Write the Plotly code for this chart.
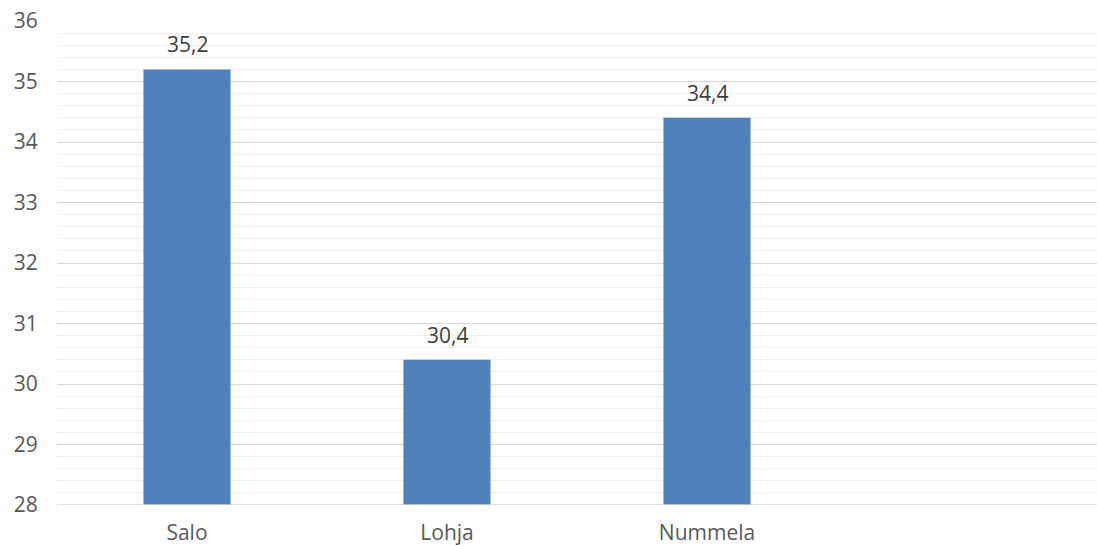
import plotly.graph_objects as go

categories = ["Salo", "Lohja", "Nummela"]
values = [35.2, 30.4, 34.4]
y_ticks = [28, 29, 30, 31, 32, 33, 34, 35, 36]

BAR = "#4F81BD"
TXT = "#595959"
FONT = "Open Sans"
FS = 21

fig = go.Figure()
fig.add_trace(go.Bar(x=categories, y=values, marker=dict(color=BAR, line=dict(width=0)),
                     width=0.335, hoverinfo="skip"))

for c, v in zip(categories, values):
    fig.add_annotation(x=c, y=v, text=f"{v:.1f}".replace(".", ","), showarrow=False,
                       yanchor="bottom", yshift=9,
                       font=dict(family=FONT, size=FS, color="#404040"))

fig.update_layout(
    width=1098, height=546,
    margin=dict(l=57, r=1, t=21, b=41),
    paper_bgcolor="white", plot_bgcolor="white",
    showlegend=False,
    separators=", ",
    font=dict(family=FONT, size=FS, color=TXT),
    xaxis=dict(type="category", categoryarray=categories, range=[-0.5, 3.5],
               showgrid=False, zeroline=False, showline=False, automargin=False,
               ticks="outside", ticklen=9, tickcolor="rgba(0,0,0,0)",
               tickfont=dict(family=FONT, size=FS, color=TXT)),
    yaxis=dict(range=[28, 36], tickvals=y_ticks, showgrid=True, gridcolor="#D9D9D9",
               gridwidth=1, zeroline=False, showline=False, automargin=False,
               ticks="outside", ticklen=14, tickcolor="rgba(0,0,0,0)",
               tickfont=dict(family=FONT, size=FS, color=TXT),
               minor=dict(dtick=0.2, showgrid=True, gridcolor="#EFEFEF", gridwidth=1.2)),
)
fig.add_shape(type="line", xref="paper", yref="y", x0=0, x1=1, y0=28, y1=28,
              line=dict(color="#D9D9D9", width=1.5))

fig.write_html("out.html")
